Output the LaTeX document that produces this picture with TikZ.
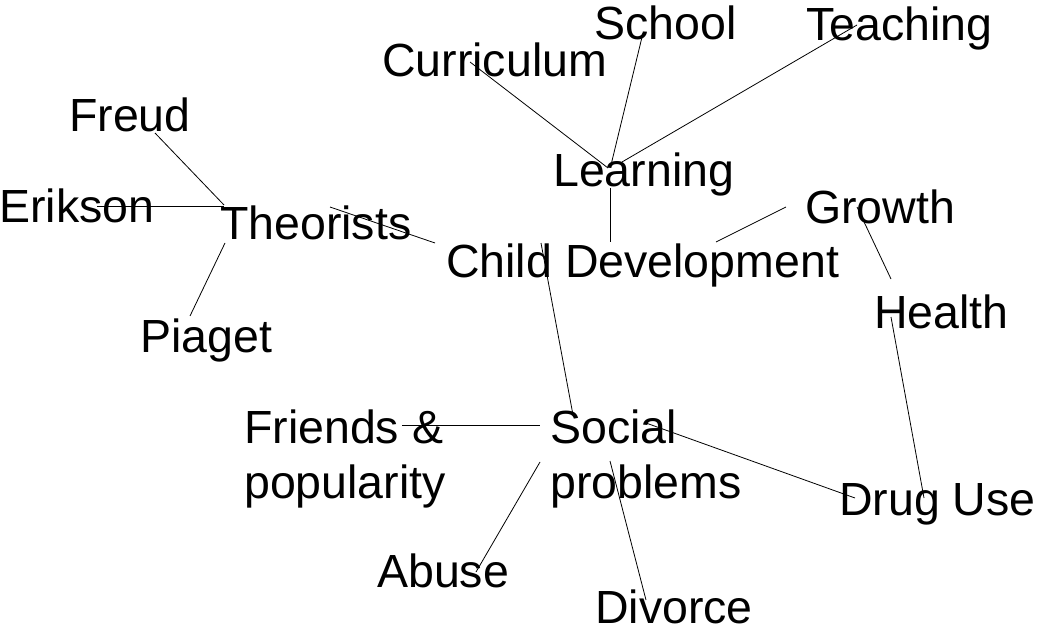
\documentclass[tikz,border=0pt]{standalone}
\usepackage{fontspec}
\setmainfont{Liberation Sans}
\begin{document}
\begin{tikzpicture}[x=1pt,y=-1pt,
  lbl/.style={inner sep=0pt, anchor=base west, font=\fontsize{46.5}{55}\selectfont, align=left},
  link/.style={line width=0.8pt, draw=black}]
\useasboundingbox (0,0) rectangle (1039,631);
% labels (anchor = baseline of the last line)
\node[lbl] (school)   at (594,40)  {School};
\node[lbl] (teaching) at (806,41)  {Teaching};
\node[lbl] (curr)     at (382,77)  {Curriculum};
\node[lbl] (learn)    at (553,187) {Learning};
\node[lbl] (growth)   at (805,224) {Growth};
\node[lbl] (freud)    at (69,132)  {Freud};
\node[lbl] (erik)     at (-1,223)  {Erikson};
\node[lbl] (theo)     at (220,240) {Theorists};
\node[lbl] (child)    at (446,277) {Child Development};
\node[lbl] (health)   at (874,328) {Health};
\node[lbl] (piaget)   at (140,352) {Piaget};
\node[lbl] (friends)  at (244,498) {Friends \&\\popularity};
\node[lbl] (social)   at (550,498) {Social\\problems};
\node[lbl] (drug)     at (839,515) {Drug Use};
\node[lbl] (abuse)    at (377,587) {Abuse};
\node[lbl] (divorce)  at (595,623) {Divorce};
% connector end points
\coordinate (freud-e)  at (155,133); \coordinate (theo-f)   at (224,205);
\coordinate (erik-e)   at (97,206);  \coordinate (theo-e)   at (224,206);
\coordinate (piaget-e) at (190,316); \coordinate (theo-p)   at (225,243);
\coordinate (theo-c)   at (330,207); \coordinate (child-t)  at (435,243);
\coordinate (learn-c)  at (610,188); \coordinate (child-l)  at (610,242);
\coordinate (curr-e)   at (470,62);  \coordinate (learn-cu) at (608,168);
\coordinate (school-e) at (643,33);  \coordinate (learn-s)  at (611,165);
\coordinate (teach-e)  at (857,25);  \coordinate (learn-t)  at (622,162);
\coordinate (child-g)  at (716,242); \coordinate (growth-c) at (786,207);
\coordinate (growth-h) at (857,207); \coordinate (health-g) at (891,279);
\coordinate (health-d) at (891,317); \coordinate (drug-h)   at (924,498);
\coordinate (child-s)  at (541,243); \coordinate (social-c) at (573,415);
\coordinate (friends-s) at (402,425); \coordinate (social-f) at (540,425);
\coordinate (social-d) at (646,423); \coordinate (drug-s)   at (855,498);
\coordinate (social-a) at (540,462); \coordinate (abuse-s)  at (476,572);
\coordinate (social-v) at (610,461); \coordinate (divorce-s) at (646,600);
% connectors
\draw[link] (freud-e) -- (theo-f);
\draw[link] (erik-e) -- (theo-e);
\draw[link] (piaget-e) -- (theo-p);
\draw[link] (theo-c) -- (child-t);
\draw[link] (learn-c) -- (child-l);
\draw[link] (curr-e) -- (learn-cu);
\draw[link] (school-e) -- (learn-s);
\draw[link] (teach-e) -- (learn-t);
\draw[link] (child-g) -- (growth-c);
\draw[link] (growth-h) -- (health-g);
\draw[link] (health-d) -- (drug-h);
\draw[link] (child-s) -- (social-c);
\draw[link] (friends-s) -- (social-f);
\draw[link] (social-d) -- (drug-s);
\draw[link] (social-a) -- (abuse-s);
\draw[link] (social-v) -- (divorce-s);
\end{tikzpicture}
\end{document}
